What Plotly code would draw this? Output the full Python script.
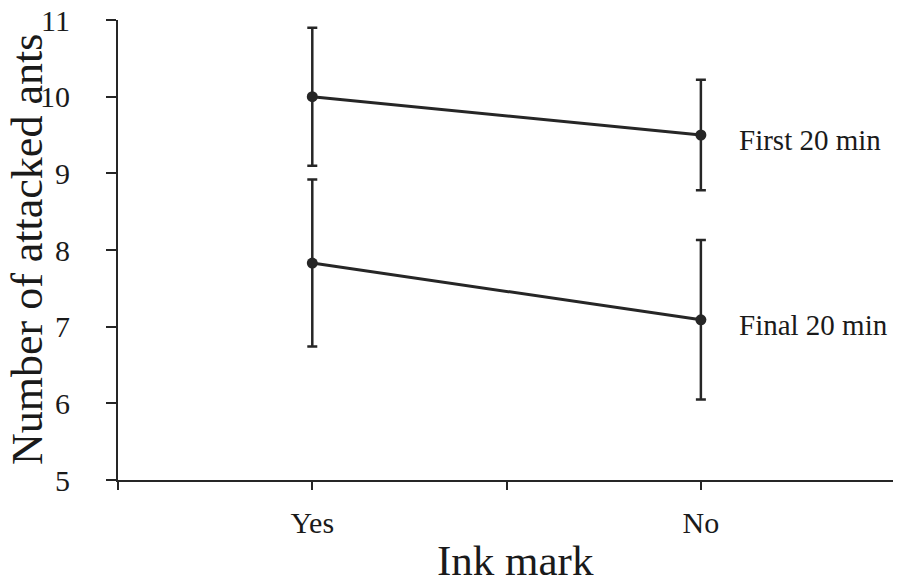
import plotly.graph_objects as go

# Data
categories = ["Yes", "No"]
series_names = ["First 20 min", "Final 20 min"]
first_mean = [10.0, 9.5]
first_err = [0.9, 0.72]
final_mean = [7.83, 7.09]
final_err = [1.09, 1.04]
y_ticks = [5, 6, 7, 8, 9, 10, 11]
x_title = "Ink mark"
y_title = "Number of attacked ants"

x_pos = [1 + 2 * i for i in range(len(categories))]
COL = "#262626"
TXT = "#1a1a1a"
FONT = "Liberation Serif, Times New Roman, serif"

fig = go.Figure()
for name, m, e in [(series_names[0], first_mean, first_err),
                   (series_names[1], final_mean, final_err)]:
    fig.add_trace(go.Scatter(
        x=x_pos, y=m, mode="lines+markers", name=name,
        line=dict(color=COL, width=3),
        marker=dict(color=COL, size=11),
        error_y=dict(type="data", array=e, visible=True, color=COL,
                     thickness=2.5, width=5),
        showlegend=False,
    ))
    fig.add_annotation(x=x_pos[-1], y=m[-1], text=name, showarrow=False,
                       xanchor="left", yanchor="middle", xshift=36, yshift=-5,
                       font=dict(family=FONT, size=29, color=TXT))

# axis titles
fig.add_annotation(xref="paper", yref="paper", x=0.5, y=0, text=x_title,
                   showarrow=False, xanchor="center", yanchor="middle",
                   xshift=6, yshift=-80, font=dict(family=FONT, size=43, color=TXT))
fig.add_annotation(xref="paper", yref="paper", x=0, y=0.5, text=y_title,
                   showarrow=False, xanchor="center", yanchor="middle", textangle=-90,
                   xshift=-91, font=dict(family=FONT, size=44, color=TXT))

fig.update_layout(
    width=893, height=571,
    margin=dict(l=110, r=0, t=12, b=99),
    paper_bgcolor="white", plot_bgcolor="white",
    font=dict(family=FONT, color=TXT),
)
fig.update_xaxes(
    range=[0, 4.03], tickvals=[0, 1, 2, 3], ticktext=["", categories[0], "", categories[1]],
    showline=True, linecolor=COL, linewidth=2, ticks="outside", ticklen=8,
    tickwidth=2, tickcolor=COL, showgrid=False, zeroline=False, automargin=False,
    tickfont=dict(size=30), ticklabelstandoff=7, ticklabeloverflow="allow",
)
fig.update_yaxes(
    range=[5, 11], tickvals=y_ticks,
    showline=True, linecolor=COL, linewidth=2, ticks="outside", ticklen=10,
    tickwidth=2, tickcolor=COL, showgrid=False, zeroline=False, automargin=False,
    tickfont=dict(size=30), ticklabelstandoff=30, ticklabeloverflow="allow",
)
fig.write_html("out.html")
